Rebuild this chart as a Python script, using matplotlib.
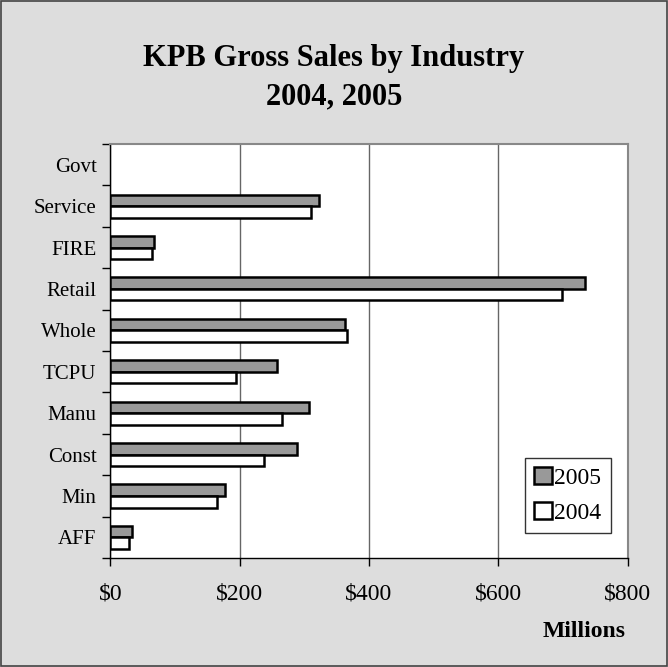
import numpy as np
import matplotlib
matplotlib.use("Agg")
import matplotlib.pyplot as plt
from matplotlib.patches import Rectangle

plt.rcParams['font.family'] = ['Liberation Serif', 'DejaVu Serif']

# categories listed bottom to top
industries = ['AFF', 'Min', 'Const', 'Manu', 'TCPU', 'Whole',
              'Retail', 'FIRE', 'Service', 'Govt']
sales_2005 = [34, 177, 288, 307, 257, 363, 734, 67, 322, 0]
sales_2004 = [28, 165, 237, 265, 194, 366, 699, 64, 311, 0]
xticks = [0, 200, 400, 600, 800]
xtick_labels = ['$0', '$200', '$400', '$600', '$800']

fig = plt.figure(figsize=(6.68, 6.67), dpi=100)
fig.patch.set_facecolor('#dddddd')
# outer frame
fig.patches.append(Rectangle((0.001, 0.001), 0.997, 0.997, transform=fig.transFigure,
                             fill=False, edgecolor='#444444', lw=1.2))

ax = fig.add_axes([0.1654, 0.1634, 0.7740, 0.6207])
ax.set_facecolor('white')

y = np.arange(len(industries))
h = 0.28
# no outline for empty (zero) bars
lw05 = [1.8 if v else 0 for v in sales_2005]
lw04 = [1.8 if v else 0 for v in sales_2004]
ax.barh(y + h / 2, sales_2005, height=h, color='#999999',
        edgecolor='black', linewidth=lw05, label='2005', zorder=3)
ax.barh(y - h / 2, sales_2004, height=h, color='white',
        edgecolor='black', linewidth=lw04, label='2004', zorder=3)

ax.set_xlim(0, 800)
ax.set_ylim(-0.5, len(industries) - 0.5)
ax.set_xticks(xticks)
ax.set_xticklabels(xtick_labels, fontsize=17)
ax.set_yticks(y)
ax.set_yticklabels(industries, fontsize=15)
ax.tick_params(axis='y', length=0, pad=10)
ax.set_yticks(np.arange(len(industries) + 1) - 0.5, minor=True)
ax.tick_params(axis='y', which='minor', length=6, width=1, direction='out')
ax.tick_params(axis='x', length=6, width=1, direction='out', pad=12)

ax.grid(axis='x', color='#666666', lw=1, zorder=0)
for side in ['top', 'right']:
    ax.spines[side].set_color('#888888')
    ax.spines[side].set_linewidth(1.5)
for side in ['left', 'bottom']:
    ax.spines[side].set_color('black')
    ax.spines[side].set_linewidth(1)

fig.text(0.5, 0.913, 'KPB Gross Sales by Industry', ha='center', va='center',
         fontsize=22, fontweight='bold')
fig.text(0.5, 0.854, '2004, 2005', ha='center', va='center',
         fontsize=22, fontweight='bold')
fig.text(0.874, 0.053, 'Millions', ha='center', va='center',
         fontsize=17, fontweight='bold')

leg = ax.legend(loc='lower right', bbox_to_anchor=(0.968, 0.06), fontsize=17,
                frameon=True, fancybox=False, handlelength=0.75,
                handleheight=0.75, handletextpad=0.1, labelspacing=0.55,
                borderpad=0.4, borderaxespad=0)
leg.get_frame().set_edgecolor('black')
leg.get_frame().set_linewidth(1)

fig.savefig('out.png', dpi=100, facecolor=fig.get_facecolor())
